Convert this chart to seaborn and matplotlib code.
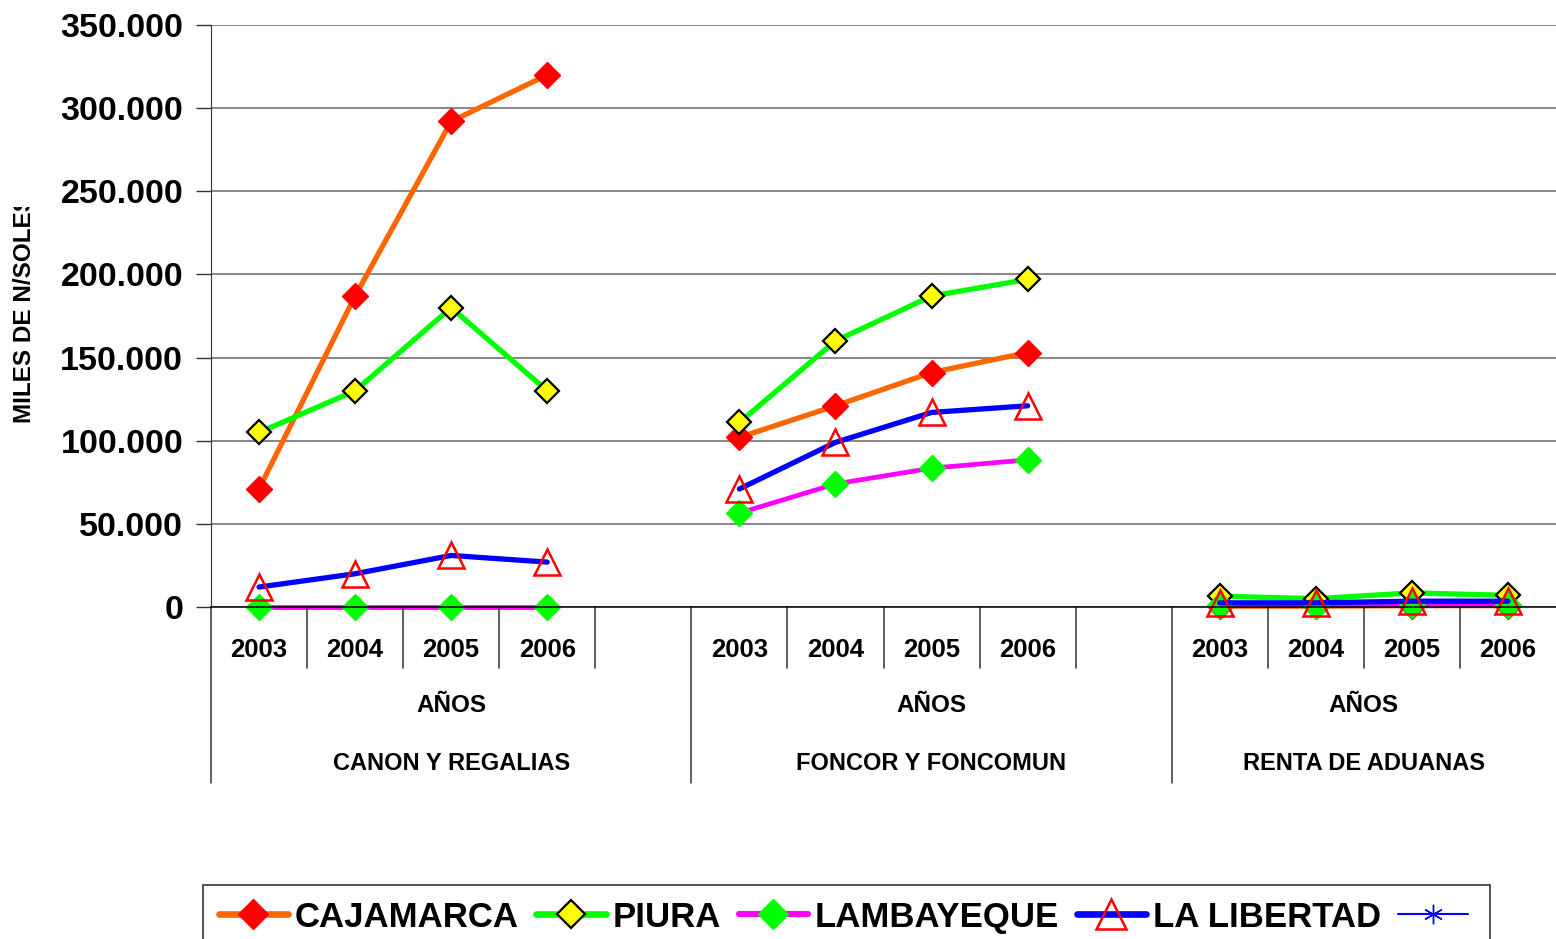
import matplotlib.pyplot as plt
import matplotlib.transforms as mtransforms
from matplotlib.lines import Line2D
from matplotlib.ticker import FuncFormatter
import seaborn as sns
import numpy as np
import pandas as pd

# values in miles de N/soles
years = ["2003", "2004", "2005", "2006"]
groups = ["CANON Y REGALIAS", "FONCOR Y FONCOMUN", "RENTA DE ADUANAS"]

cajamarca = [[71000, 187000, 292000, 320000],
             [102000, 121000, 141000, 153000],
             [500, 500, 800, 800]]
piura = [[105000, 130000, 180000, 130000],
         [111000, 160000, 187000, 197000],
         [6500, 5000, 8500, 7000]]
lambayeque = [[300, 300, 300, 300],
              [56500, 74000, 83500, 88500],
              [1000, 800, 1200, 1200]]
la_libertad = [[12000, 20000, 31000, 27000],
               [71000, 99000, 117000, 121000],
               [2500, 2500, 3500, 3500]]

series = ["CAJAMARCA", "PIURA", "LAMBAYEQUE", "LA LIBERTAD"]
values = [cajamarca, piura, lambayeque, la_libertad]

styles = {
    "CAJAMARCA": dict(color="#FF6600", lw=3.8, marker="D", ms=13,
                      mfc="#FF0000", mec="#FF0000", mew=1),
    "PIURA": dict(color="#00FF00", lw=3.8, marker="D", ms=12,
                  mfc="#FFFF00", mec="black", mew=1.6),
    "LAMBAYEQUE": dict(color="#FF00FF", lw=3.4, marker="D", ms=13,
                       mfc="#00FF00", mec="#00FF00", mew=1),
    "LA LIBERTAD": dict(color="#0000FF", lw=3.8, marker="^", ms=19,
                        mfc="none", mec="#FF0000", mew=1.8),
}

# long table: 4 years per group, one empty slot between groups
rows = []
for s, v in zip(series, values):
    for g, gname in enumerate(groups):
        for i, yr in enumerate(years):
            rows.append({"pos": g * 5 + i, "valor": v[g][i], "serie": s, "grupo": gname})
df = pd.DataFrame(rows)

sns.set_style("white")
plt.rcParams["font.family"] = ["Liberation Sans", "DejaVu Sans"]
plt.rcParams["font.weight"] = "bold"
plt.rcParams["text.color"] = "black"
plt.rcParams["xtick.color"] = "black"
plt.rcParams["ytick.color"] = "black"
plt.rcParams["xtick.labelcolor"] = "black"
plt.rcParams["ytick.labelcolor"] = "black"

fig = plt.figure(figsize=(15.56, 9.39), dpi=100)
ax = fig.add_axes([211 / 1556, 1 - 607 / 939, 1345 / 1556, 582 / 939])

for s in series:
    st = styles[s]
    sns.lineplot(data=df[df.serie == s], x="pos", y="valor", units="grupo",
                 estimator=None, ax=ax, color=st["color"], linewidth=st["lw"],
                 marker=st["marker"], markersize=st["ms"],
                 markerfacecolor=st["mfc"], markeredgecolor=st["mec"],
                 markeredgewidth=st["mew"], clip_on=False, legend=False)

ax.set_xlim(-0.5, 13.5)
ax.set_ylim(0, 350000)
ax.set_yticks(np.arange(0, 350001, 50000))
ax.yaxis.set_major_formatter(FuncFormatter(lambda v, p: f"{int(v):,}".replace(",", ".")))
ax.grid(axis="y", color="#666666", lw=1.1)
ax.set_axisbelow(True)
for sp in ["top", "right"]:
    ax.spines[sp].set_visible(False)
ax.spines["left"].set_color("#333333")
ax.spines["bottom"].set_color("black")
ax.spines["bottom"].set_linewidth(1.1)
ax.tick_params(axis="y", length=11, width=1, color="#333333", direction="out",
               labelsize=24.5, pad=9, left=True, labelcolor="black")
ax.tick_params(axis="x", length=0, labelsize=18.5, pad=22, labelcolor="black")

xpos = [g * 5 + i for g in range(3) for i in range(4)]
ax.set_xticks(xpos)
ax.set_xticklabels(years * 3, fontweight="bold")
for lab in ax.get_yticklabels():
    lab.set_fontweight("bold")
ax.set_xlabel("")
ax.set_ylabel("")

# category separators under the axis
trans = mtransforms.blended_transform_factory(ax.transData, ax.transAxes)
short_len = -(668 - 607) / 582
long_len = -(783 - 607) / 582
for x in np.arange(-0.5, 13, 1.0):
    bound = x in (-0.5, 4.5, 9.5)
    ax.plot([x, x], [0, long_len if bound else short_len], transform=trans,
            color="#333333", lw=1.1, clip_on=False)

centers = [(-0.5 + 4.5) / 2, (4.5 + 9.5) / 2, (9.5 + 13.5) / 2]
for c, gname in zip(centers, groups):
    ax.text(c, -(706 - 607) / 582, "AÑOS", transform=trans, ha="center",
            va="center", fontsize=17.5, fontweight="bold", color="black")
    ax.text(c, -(763 - 607) / 582, gname, transform=trans, ha="center",
            va="center", fontsize=17, fontweight="bold", color="black")

# y label, cut at the top like the original
yl = fig.text(25 / 1556, 1 - 423 / 939, "MILES DE N/SOLES", rotation=90,
              ha="center", va="bottom", fontsize=17.5, fontweight="bold",
              color="black")
yl.set_clip_box(mtransforms.TransformedBbox(
    mtransforms.Bbox([[0, 0], [1, 1 - 207 / 939]]), fig.transFigure))
yl.set_clip_on(True)

handles = []
for s in series:
    st = styles[s]
    handles.append(Line2D([], [], color=st["color"], lw=st["lw"] + 1,
                          marker=st["marker"], markersize=st["ms"] + 2,
                          markerfacecolor=st["mfc"], markeredgecolor=st["mec"],
                          markeredgewidth=st["mew"]))
handles.append(Line2D([], [], color="#0000FF", lw=1.5, marker=(6, 2, 0),
                      markersize=14, markeredgecolor="#0000FF"))
leg = fig.legend(handles, series + [""], loc="upper left",
                 bbox_to_anchor=(203 / 1556, 1 - 885 / 939), ncol=5,
                 prop={"size": 25, "weight": "bold"}, frameon=True,
                 fancybox=False, edgecolor="black", handlelength=2.0,
                 handletextpad=0.2, columnspacing=0.5, borderpad=0.45,
                 numpoints=1, borderaxespad=0, labelcolor="black")
leg.get_frame().set_linewidth(1.2)

fig.savefig("out.png", dpi=100)
